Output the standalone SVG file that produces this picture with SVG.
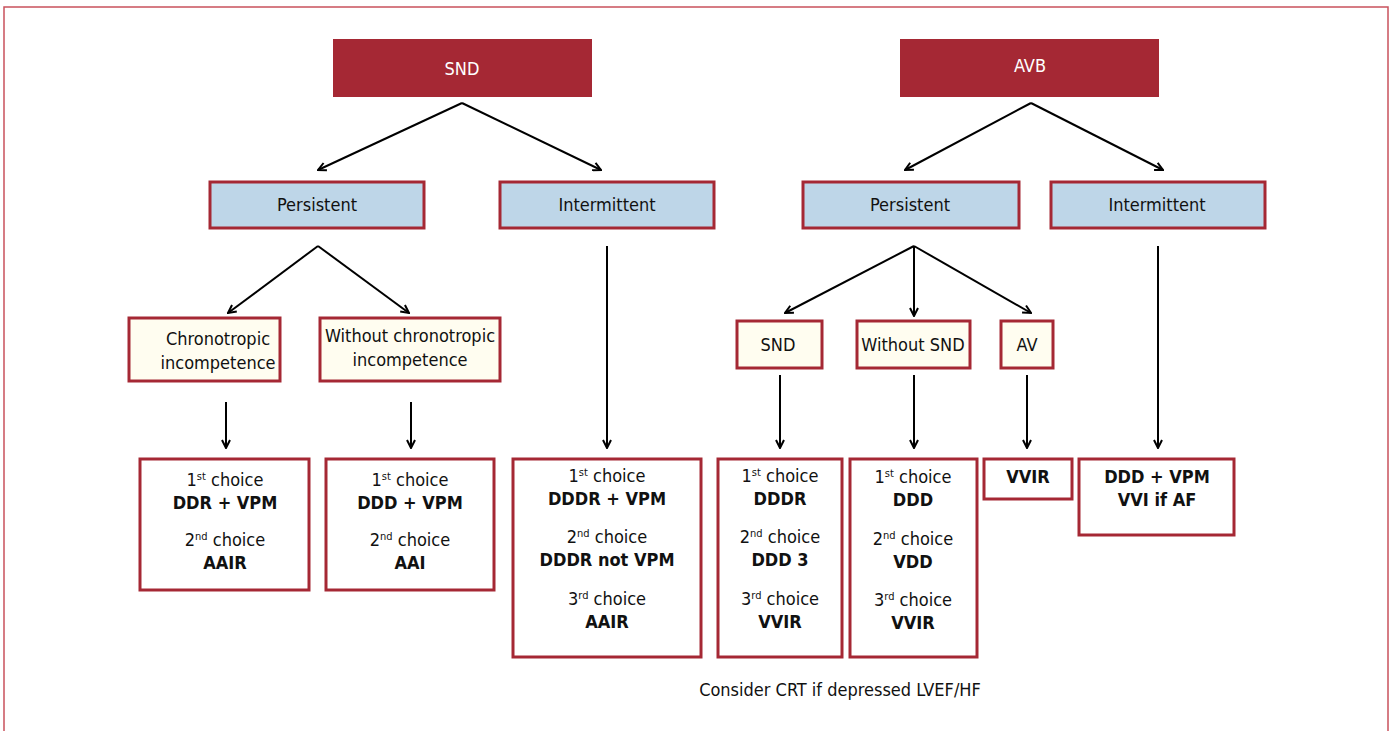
<svg xmlns="http://www.w3.org/2000/svg" width="1394" height="731" viewBox="0 0 1394 731">
<defs>
<style>
text{font-family:"Liberation Sans Narrow","DejaVu Sans Condensed","Liberation Sans",sans-serif;font-stretch:condensed;font-size:18px;fill:#111;text-anchor:middle}
.top{fill:#a52834}
.top text{fill:#fff}
.blue{fill:#bed6e8;stroke:#a52834;stroke-width:3}
.cream{fill:#fffdf0;stroke:#a52834;stroke-width:3}
.res{fill:#fff;stroke:#a52834;stroke-width:3}
.b{font-weight:bold}
.sup{font-size:11px}
.con line,.con polyline{stroke:#000;stroke-width:2;fill:none}
</style>
<marker id="ah" viewBox="0 0 10 10" refX="9" refY="5" markerWidth="10" markerHeight="10" markerUnits="userSpaceOnUse" orient="auto">
<path d="M1,1 L9,5 L1,9" fill="none" stroke="#000" stroke-width="2"/>
</marker>
</defs>
<rect x="4" y="7" width="1384" height="740" fill="#fff" stroke="#c9525c" stroke-width="1.5"/>

<g class="con">
<line x1="462" y1="103" x2="318" y2="170" marker-end="url(#ah)"/>
<line x1="462" y1="103" x2="601" y2="170" marker-end="url(#ah)"/>
<line x1="1031" y1="103" x2="905" y2="170" marker-end="url(#ah)"/>
<line x1="1031" y1="103" x2="1163" y2="170" marker-end="url(#ah)"/>
<line x1="318" y1="246" x2="228" y2="313" marker-end="url(#ah)"/>
<line x1="318" y1="246" x2="409" y2="313" marker-end="url(#ah)"/>
<line x1="607" y1="246" x2="607" y2="448" marker-end="url(#ah)"/>
<line x1="914" y1="246" x2="785" y2="313" marker-end="url(#ah)"/>
<line x1="914" y1="246" x2="914" y2="316" marker-end="url(#ah)"/>
<line x1="914" y1="246" x2="1031" y2="313" marker-end="url(#ah)"/>
<line x1="1158" y1="246" x2="1158" y2="448" marker-end="url(#ah)"/>
<line x1="226" y1="402" x2="226" y2="448" marker-end="url(#ah)"/>
<line x1="411" y1="402" x2="411" y2="448" marker-end="url(#ah)"/>
<line x1="780" y1="375" x2="780" y2="448" marker-end="url(#ah)"/>
<line x1="914" y1="375" x2="914" y2="448" marker-end="url(#ah)"/>
<line x1="1027" y1="375" x2="1027" y2="448" marker-end="url(#ah)"/>
</g>

<g id="snd" class="top"><rect x="333" y="39" width="259" height="58"/><text x="462" y="75">SND</text></g>
<g id="avb" class="top"><rect x="900" y="39" width="259" height="58"/><text x="1030" y="72">AVB</text></g>

<g id="snd-persistent"><rect class="blue" x="210" y="182" width="214" height="46"/><text x="317" y="211">Persistent</text></g>
<g id="snd-intermittent"><rect class="blue" x="500" y="182" width="214" height="46"/><text x="607" y="211">Intermittent</text></g>
<g id="avb-persistent"><rect class="blue" x="803" y="182" width="216" height="46"/><text x="910" y="211">Persistent</text></g>
<g id="avb-intermittent"><rect class="blue" x="1051" y="182" width="214" height="46"/><text x="1157" y="211">Intermittent</text></g>

<g id="chrono"><rect class="cream" x="129" y="318" width="151" height="63"/><text x="218" y="345">Chronotropic</text><text x="218" y="369">incompetence</text></g>
<g id="without-chrono"><rect class="cream" x="320" y="318" width="180" height="63"/><text x="410" y="342">Without chronotropic</text><text x="410" y="366">incompetence</text></g>
<g id="avb-snd"><rect class="cream" x="737" y="321" width="85" height="47"/><text x="778" y="351">SND</text></g>
<g id="without-snd"><rect class="cream" x="857" y="321" width="113" height="47"/><text x="913" y="351">Without SND</text></g>
<g id="av"><rect class="cream" x="1001" y="321" width="52" height="47"/><text x="1027" y="351">AV</text></g>

<g id="r1"><rect class="res" x="140" y="459" width="169" height="131"/>
<text x="225" y="486">1<tspan class="sup" dy="-6">st</tspan><tspan dy="6"> choice</tspan></text>
<text x="225" y="509" class="b">DDR + VPM</text>
<text x="225" y="546">2<tspan class="sup" dy="-6">nd</tspan><tspan dy="6"> choice</tspan></text>
<text x="225" y="569" class="b">AAIR</text></g>

<g id="r2"><rect class="res" x="326" y="459" width="168" height="131"/>
<text x="410" y="486">1<tspan class="sup" dy="-6">st</tspan><tspan dy="6"> choice</tspan></text>
<text x="410" y="509" class="b">DDD + VPM</text>
<text x="410" y="546">2<tspan class="sup" dy="-6">nd</tspan><tspan dy="6"> choice</tspan></text>
<text x="410" y="569" class="b">AAI</text></g>

<g id="r3"><rect class="res" x="513" y="459" width="188" height="198"/>
<text x="607" y="482">1<tspan class="sup" dy="-6">st</tspan><tspan dy="6"> choice</tspan></text>
<text x="607" y="505" class="b">DDDR + VPM</text>
<text x="607" y="543">2<tspan class="sup" dy="-6">nd</tspan><tspan dy="6"> choice</tspan></text>
<text x="607" y="566" class="b">DDDR not VPM</text>
<text x="607" y="605">3<tspan class="sup" dy="-6">rd</tspan><tspan dy="6"> choice</tspan></text>
<text x="607" y="628" class="b">AAIR</text></g>

<g id="r4"><rect class="res" x="718" y="459" width="124" height="198"/>
<text x="780" y="482">1<tspan class="sup" dy="-6">st</tspan><tspan dy="6"> choice</tspan></text>
<text x="780" y="505" class="b">DDDR</text>
<text x="780" y="543">2<tspan class="sup" dy="-6">nd</tspan><tspan dy="6"> choice</tspan></text>
<text x="780" y="566" class="b">DDD 3</text>
<text x="780" y="605">3<tspan class="sup" dy="-6">rd</tspan><tspan dy="6"> choice</tspan></text>
<text x="780" y="628" class="b">VVIR</text></g>

<g id="r5"><rect class="res" x="850" y="459" width="127" height="198"/>
<text x="913" y="483">1<tspan class="sup" dy="-6">st</tspan><tspan dy="6"> choice</tspan></text>
<text x="913" y="506" class="b">DDD</text>
<text x="913" y="545">2<tspan class="sup" dy="-6">nd</tspan><tspan dy="6"> choice</tspan></text>
<text x="913" y="568" class="b">VDD</text>
<text x="913" y="606">3<tspan class="sup" dy="-6">rd</tspan><tspan dy="6"> choice</tspan></text>
<text x="913" y="629" class="b">VVIR</text></g>

<g id="r6"><rect class="res" x="984" y="459" width="88" height="40"/>
<text x="1028" y="483" class="b">VVIR</text></g>

<g id="r7"><rect class="res" x="1079" y="459" width="155" height="76"/>
<text x="1157" y="483" class="b">DDD + VPM</text>
<text x="1157" y="506" class="b">VVI if AF</text></g>

<text x="840" y="696">Consider CRT if depressed LVEF/HF</text>
</svg>
